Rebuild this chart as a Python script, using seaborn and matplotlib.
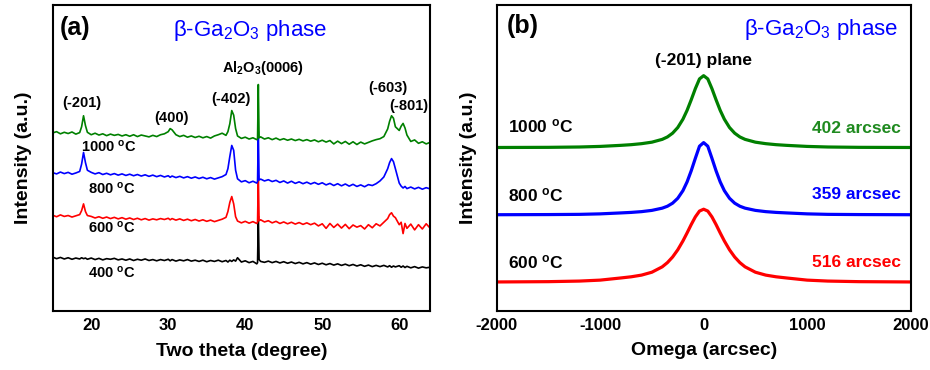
import numpy as np
import pandas as pd
import matplotlib
matplotlib.use("Agg")
import matplotlib.pyplot as plt
from matplotlib.ticker import FixedLocator
import seaborn as sns

# ---------------- data: panel (a) XRD ----------------
two_theta = [
    15.0, 15.5, 16.0, 16.5, 17.0, 17.5, 18.0, 18.5,
    18.75, 19.0, 19.25, 19.5,
    20.0, 20.5, 21.0, 21.5, 22.0, 22.5, 23.0, 23.5, 24.0, 24.5,
    25.0, 25.5, 26.0, 26.5, 27.0, 27.5, 28.0, 28.5, 29.0, 29.5,
    30.0, 30.25, 30.5, 31.0, 31.5, 32.0, 32.5, 33.0, 33.5, 34.0,
    34.5, 35.0, 35.5, 36.0, 36.5, 37.0, 37.5,
    37.75, 38.0, 38.25, 38.5, 38.75, 39.0, 39.5,
    40.0, 40.5, 41.0, 41.5, 41.6, 41.7, 41.8, 42.0,
    42.5, 43.0, 43.5, 44.0, 44.5, 45.0, 45.5, 46.0, 46.5, 47.0,
    47.5, 48.0, 48.5, 49.0, 49.5, 50.0, 50.5, 51.0, 51.5, 52.0,
    52.5, 53.0, 53.5, 54.0, 54.5, 55.0, 55.5, 56.0, 56.5, 57.0,
    57.5, 58.0, 58.5, 58.75, 59.0, 59.25, 59.5, 60.0,
    60.25, 60.5, 60.75, 61.0, 61.5, 62.0, 62.5, 63.0, 63.5, 64.0, 64.5,
]

xrd_1000 = [
    58.2, 58.6, 57.9, 58.4, 58.0, 58.5, 57.8, 58.3,
    60.2, 63.8, 60.6, 58.4,
    57.6, 58.1, 57.5, 57.9, 57.3, 57.8, 57.4, 57.7, 57.2, 57.6,
    57.1, 57.6, 57.0, 57.5, 57.2, 56.9, 57.4, 57.0, 57.6, 57.9,
    58.6, 59.6, 59.2, 57.6, 57.0, 57.4, 56.8, 57.2, 56.7, 57.1,
    56.6, 57.0, 56.5, 57.2, 57.6, 58.1, 57.4,
    58.6, 61.2, 65.5, 64.0, 59.6, 57.2, 56.4,
    56.8, 56.2, 56.6, 56.0, 56.3, 74.0, 56.6, 56.9,
    56.2, 56.6, 56.0, 56.5, 55.9, 56.3, 55.8, 56.2, 55.7, 56.1,
    55.6, 56.0, 55.5, 55.9, 55.3, 55.8, 55.2, 55.7, 54.6, 55.5,
    54.7, 55.4, 54.5, 55.3, 54.4, 55.2, 54.6, 55.1, 55.6, 56.0,
    56.3, 57.0, 59.5, 62.0, 63.8, 63.0, 60.2, 59.0,
    60.4, 61.3, 59.8, 57.5, 55.4, 55.9, 54.8, 55.3, 54.6, 55.1, 54.7,
]

xrd_800 = [
    45.2, 44.8, 45.4, 44.9, 45.3, 44.7, 45.1, 45.6,
    48.0, 51.8, 48.5, 46.0,
    45.3, 44.8, 45.2, 44.6, 45.0, 44.5, 44.9, 44.4, 44.8, 44.3,
    44.7, 44.2, 44.6, 44.1, 44.5, 44.0, 44.4, 43.9, 44.3, 43.8,
    44.2, 43.7, 44.1, 43.6, 44.0, 43.5, 43.9, 43.4, 43.8, 43.3,
    43.7, 43.2, 43.6, 43.1, 43.5, 43.9, 44.6,
    46.5, 50.5, 54.1, 52.5, 46.0, 43.2, 42.2,
    42.6, 41.9, 42.4, 41.8, 42.3, 58.6, 42.8, 43.1,
    42.5, 42.9, 42.3, 42.7, 42.0, 42.5, 41.8, 42.4, 41.7, 42.2,
    41.6, 42.1, 41.5, 42.0, 41.4, 41.9, 41.2, 41.7, 41.0, 41.6,
    40.9, 41.5, 40.8, 41.4, 40.7, 41.2, 40.6, 41.3, 41.0, 41.6,
    42.5, 43.8, 46.5, 48.5, 49.8, 48.8, 46.5, 41.8,
    40.8, 40.2, 40.7, 40.0, 40.5, 39.9, 40.4, 39.8, 40.3, 39.9, 40.2,
]

xrd_600 = [
    31.3, 30.8, 31.4, 30.9, 31.2, 30.7, 31.1, 31.5,
    32.8, 35.0, 32.5, 31.2,
    30.9, 30.4, 30.8, 30.3, 30.7, 30.2, 30.6, 30.1, 30.5, 30.0,
    30.4, 29.9, 30.3, 29.8, 30.2, 29.7, 30.1, 29.8, 30.2, 29.9,
    30.3, 29.8, 30.2, 29.7, 30.1, 29.6, 30.0, 29.5, 29.9, 29.4,
    29.8, 29.3, 29.7, 29.2, 29.6, 30.0, 30.6,
    32.5, 35.5, 37.4, 35.0, 30.8, 29.4, 28.8,
    29.3, 28.7, 29.2, 28.6, 29.0, 44.3, 29.5, 29.8,
    29.1, 29.5, 28.8, 29.3, 28.6, 29.1, 28.5, 29.0, 28.4, 28.9,
    28.3, 28.8, 28.2, 28.7, 27.8, 28.5, 27.0, 28.6, 27.3, 28.4,
    27.1, 28.3, 26.9, 28.1, 27.4, 27.9, 26.8, 28.2, 27.2, 28.5,
    27.8, 29.0, 30.2, 31.5, 32.1, 31.0, 30.5, 28.2,
    29.0, 25.3, 28.6, 27.0, 28.4, 26.5, 28.2, 26.8, 28.5, 27.1, 28.0,
]

xrd_400 = [
    17.6, 17.1, 17.5, 17.0, 17.4, 16.9, 17.3, 17.0,
    17.4, 17.1, 17.3, 16.9,
    17.3, 16.8, 17.2, 16.7, 17.1, 16.9, 17.2, 16.7, 17.0, 16.6,
    17.0, 16.5, 16.9, 16.6, 17.0, 16.5, 16.8, 16.4, 16.8, 16.5,
    16.9, 16.4, 16.8, 16.3, 16.7, 16.4, 16.8, 16.3, 16.6, 16.2,
    16.6, 16.1, 16.5, 16.2, 16.6, 16.1, 16.5,
    16.0, 16.6, 16.2, 16.7, 16.3, 17.4, 16.0,
    16.4, 15.8, 16.2, 15.4, 15.8, 31.0, 16.8, 16.2,
    15.9, 16.3, 15.8, 16.2, 15.7, 16.1, 15.6, 16.0, 15.5, 15.9,
    15.4, 15.8, 15.3, 15.7, 15.2, 15.6, 15.1, 15.5, 15.0, 15.4,
    14.9, 15.3, 14.8, 15.2, 14.7, 15.1, 14.6, 15.0, 14.5, 14.9,
    14.5, 14.9, 14.4, 14.8, 14.3, 14.7, 14.4, 14.8,
    14.3, 14.7, 14.2, 14.6, 14.1, 14.5, 14.0, 14.4, 14.1, 14.3, 14.0,
]

peak_labels = ["(-201)", "(400)", "(-402)", r"Al$_\mathbf{2}$O$_\mathbf{3}$(0006)", "(-603)", "(-801)"]
peak_label_x = [18.8, 30.4, 38.2, 42.3, 58.5, 61.3]
peak_label_y = [68.0, 63.1, 69.3, 79.4, 72.9, 67.0]

temps_a = ["1000", "800", "600", "400"]
temp_a_x = [22.3, 22.7, 22.7, 22.6]
temp_a_y = [53.6, 39.9, 27.1, 12.4]

# ---------------- data: panel (b) rocking curves ----------------
omega = [-2000, -1500, -1200, -1000, -800, -700, -600, -500, -400, -350, -300, -250,
         -200, -160, -120, -80, -40, 0, 40, 80, 120, 160, 200, 250, 300, 350, 400,
         500, 600, 700, 800, 1000, 1200, 1500, 2000]

rc_1000 = [53.40, 53.45, 53.56, 53.75, 54.10, 54.32, 54.65, 55.14, 56.06, 56.85, 58.08, 59.93,
           62.66, 65.55, 69.00, 72.67, 75.84, 76.90, 75.84, 72.67, 69.00, 65.55, 62.66, 59.93,
           58.08, 56.85, 56.06, 55.14, 54.65, 54.32, 54.10, 53.75, 53.56, 53.45, 53.40]
rc_800 = [31.40, 31.45, 31.52, 31.68, 31.99, 32.16, 32.41, 32.82, 33.55, 34.18, 35.18, 36.78,
          39.28, 42.14, 45.77, 49.88, 53.82, 55.00, 53.82, 49.88, 45.77, 42.14, 39.28, 36.78,
          35.18, 34.18, 33.55, 32.82, 32.41, 32.16, 31.99, 31.68, 31.52, 31.45, 31.40]
rc_600 = [9.40, 9.50, 9.69, 10.00, 10.71, 11.09, 11.64, 12.59, 14.35, 15.73, 17.56, 19.92,
          22.82, 25.44, 28.18, 30.70, 32.60, 33.20, 32.60, 30.70, 28.18, 25.44, 22.82, 19.92,
          17.56, 15.73, 14.35, 12.59, 11.64, 11.09, 10.71, 10.00, 9.69, 9.50, 9.40]

temps_b = ["1000", "800", "600"]
fwhm_b = ["402", "359", "516"]
temp_b_y = [58.4, 35.9, 14.0]
fwhm_b_y = [58.1, 36.6, 14.2]

GREEN, BLUE, RED, BLACK = "#008000", "#0000ff", "#ff0000", "#000000"
TEXT_GREEN = "#1f8a1f"

# ---------------- style ----------------
sns.set_theme(style="white")
plt.rcParams["font.family"] = ["Liberation Sans", "DejaVu Sans"]
plt.rcParams["mathtext.fontset"] = "custom"
plt.rcParams["mathtext.rm"] = "Liberation Sans"
plt.rcParams["mathtext.it"] = "Liberation Sans:italic"
plt.rcParams["mathtext.bf"] = "Liberation Sans:bold"
plt.rcParams["axes.unicode_minus"] = False
for key in ["text.color", "axes.labelcolor", "xtick.color", "ytick.color", "axes.edgecolor"]:
    plt.rcParams[key] = "black"

fig = plt.figure(figsize=(9.3, 3.7), dpi=100)
ax1 = fig.add_axes([0.0567, 0.1595, 0.4057, 0.827])
ax2 = fig.add_axes([0.534, 0.1603, 0.4452, 0.826])

df_a = pd.DataFrame({"two_theta": two_theta, "1000": xrd_1000, "800": xrd_800,
                     "600": xrd_600, "400": xrd_400})
for col, c in [("400", BLACK), ("600", RED), ("800", BLUE), ("1000", GREEN)]:
    sns.lineplot(data=df_a, x="two_theta", y=col, ax=ax1, color=c, linewidth=1.2,
                 estimator=None, sort=False)

df_b = pd.DataFrame({"omega": omega, "1000": rc_1000, "800": rc_800, "600": rc_600})
for col, c in [("600", RED), ("800", BLUE), ("1000", GREEN)]:
    sns.lineplot(data=df_b, x="omega", y=col, ax=ax2, color=c, linewidth=2.3,
                 estimator=None, sort=False)

# ---------------- axes formatting ----------------
for ax in (ax1, ax2):
    for s in ax.spines.values():
        s.set_visible(True)
        s.set_linewidth(1.5)
        s.set_color("black")
    ax.tick_params(axis="both", which="both", direction="in", color="black",
                   labelcolor="black", top=False, right=False, labelsize=12, pad=5)
    ax.tick_params(which="major", length=5, width=1.4)
    ax.tick_params(which="minor", length=3, width=1.4)

ax1.set_xlim(15, 64)
ax1.set_ylim(0, 100)
ax1.xaxis.set_major_locator(FixedLocator([20, 30, 40, 50, 60]))
ax1.xaxis.set_minor_locator(FixedLocator([25, 35, 45, 55]))
ax1.set_yticks([])
ax1.set_xticklabels(["20", "30", "40", "50", "60"], fontweight="bold", fontsize=12)
ax1.set_xlabel("Two theta (degree)", fontsize=14, fontweight="bold", labelpad=7)
ax1.set_ylabel("Intensity (a.u.)", fontsize=14, fontweight="bold")
ax1.yaxis.set_label_coords(-0.055, 0.5)

ax2.set_xlim(-2000, 2000)
ax2.set_ylim(0, 100)
ax2.xaxis.set_major_locator(FixedLocator([-2000, -1000, 0, 1000, 2000]))
ax2.xaxis.set_minor_locator(FixedLocator([-1500, -500, 500, 1500]))
ax2.set_xticklabels(["-2000", "-1000", "0", "1000", "2000"], fontweight="bold", fontsize=12)
ax2.yaxis.set_major_locator(FixedLocator([31.4, 59.9, 88.6]))
ax2.yaxis.set_minor_locator(FixedLocator([2.9, 17.3, 45.5, 74.2]))
ax2.tick_params(axis="y", which="both", labelleft=False)
ax2.set_xlabel("Omega (arcsec)", fontsize=14, fontweight="bold", labelpad=7)
ax2.set_ylabel("Intensity (a.u.)", fontsize=14, fontweight="bold")
ax2.yaxis.set_label_coords(-0.048, 0.5)

# ---------------- annotations: panel (a) ----------------
ax1.text(0.019, 0.902, "(a)", transform=ax1.transAxes, fontsize=18, fontweight="bold",
         ha="left", va="baseline")
ax1.text(0.523, 0.899, r"β-Ga$_2$O$_3$ phase", transform=ax1.transAxes, fontsize=16,
         color=BLUE, ha="center", va="baseline")
for lab, x, y in zip(peak_labels, peak_label_x, peak_label_y):
    ax1.text(x, y, lab, fontsize=10.5, fontweight="bold", ha="center", va="center")
for t, x, y in zip(temps_a, temp_a_x, temp_a_y):
    ax1.text(x, y, t + r" $^\mathbf{o}$C", fontsize=10.5, fontweight="bold",
             ha="center", va="center")

# ---------------- annotations: panel (b) ----------------
ax2.text(0.025, 0.907, "(b)", transform=ax2.transAxes, fontsize=18, fontweight="bold",
         ha="left", va="baseline")
ax2.text(0.969, 0.902, r"β-Ga$_2$O$_3$ phase", transform=ax2.transAxes, fontsize=16,
         color=BLUE, ha="right", va="baseline")
ax2.text(-5, 80.4, "(-201) plane", fontsize=12.5, fontweight="bold", ha="center", va="baseline")
for t, y in zip(temps_b, temp_b_y):
    ax2.text(-1891, y, t + r" $^\mathbf{o}$C", fontsize=12.5, fontweight="bold",
             ha="left", va="baseline")
for f, y, c in zip(fwhm_b, fwhm_b_y, [TEXT_GREEN, BLUE, RED]):
    ax2.text(1902, y, f + " arcsec", fontsize=12.5, fontweight="bold", color=c,
             ha="right", va="baseline")

fig.savefig("out.png", dpi=100)
